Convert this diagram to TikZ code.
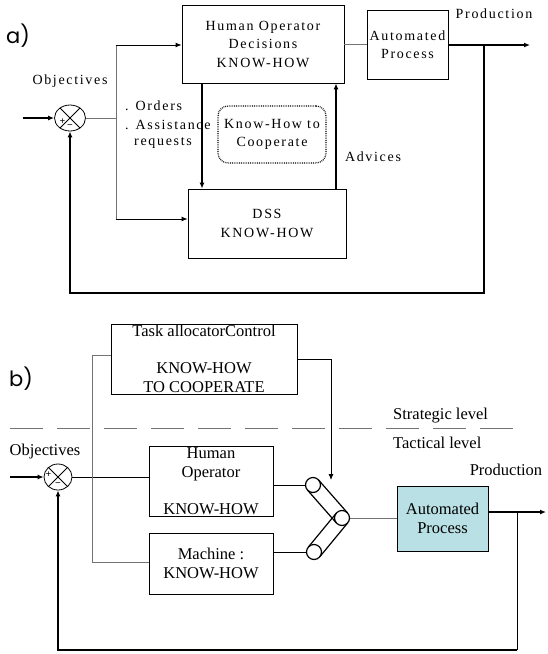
\documentclass[tikz,border=0pt]{standalone}
\usepackage{fontspec}
\setmainfont{Liberation Serif}
\newfontfamily\spacedfont[LetterSpace=12]{Liberation Serif}
\newfontfamily\labelfont{Poppins}
\usetikzlibrary{arrows.meta,calc,shapes.geometric}
\begin{document}
\begin{tikzpicture}[x=1pt,y=-1pt,
  box/.style={draw=black, line width=0.8pt, inner sep=0pt, align=center},
  fa/.style={font=\spacedfont\fontsize{14}{18.5}\selectfont},
  fb/.style={font=\fontsize{16.5}{19}\selectfont},
  gline/.style={draw=black!55, line width=0.9pt},
  thinline/.style={draw=black, line width=0.9pt},
  thickline/.style={draw=black, line width=1.6pt},
  tip/.style={-{Latex[length=6pt,width=5pt]}},
  sumj/.style={draw, ellipse, line width=0.8pt, inner sep=0pt},
  pin/.style={draw, circle, line width=1.2pt, minimum size=15pt, inner sep=0pt},
  lbl/.style={inner sep=0pt},
  tiny/.style={inner sep=0pt, font=\bfseries\fontsize{10}{10}\selectfont}
]
\useasboundingbox (0,0) rectangle (547,654);

% ================= part a =================
\node[lbl, font=\labelfont\fontsize{21}{21}\selectfont] (la) at (18,36) {a)};

\node[box, fa, minimum width=162pt, minimum height=78pt] (hoa) at (263,44) {Human Operator\\Decisions\\KNOW-HOW};
\node[box, fa, minimum width=81pt, minimum height=69pt] (apa) at (407.5,44.5) {Automated\\Process};
\node[box, fa, minimum width=158pt, minimum height=69pt] (dss) at (267,223.5) {DSS\\KNOW-HOW};
\node[box, fa, draw=black, densely dotted, line width=1.2pt, rounded corners=10pt, minimum width=108pt, minimum height=57pt] (kh) at (272,134.5) {Know-How to\\Cooperate};

\node[sumj, minimum width=31pt, minimum height=26pt] (suma) at (70,118) {};
\draw[line width=0.8pt] (suma.45) -- (suma.225) (suma.135) -- (suma.315);
\node[tiny] (pa) at (62.5,122) {+};
\node[tiny] (ma) at (70,127) {−};

\node[lbl, fa] (obja) at (70,81) {Objectives};
\node[lbl, fa, anchor=west] (orda) at (125,106) {. Orders};
\node[lbl, fa, anchor=west] (assa) at (125,125) {. Assistance};
\node[lbl, fa, anchor=west] (reqa) at (134,143) {requests};
\node[lbl, fa] (adva) at (373,157) {Advices};
\node[lbl, fa] (proda) at (494,14) {Production};

\coordinate (ina) at (23,118);
\coordinate (spa) at (116,118);
\coordinate (spt) at (116,45);
\coordinate (spb) at (116,219);
\coordinate (outa) at (530,45);
\coordinate (fba) at (484,45);
\coordinate (bota) at (70,293);
\coordinate (d1) at (202,83);
\coordinate (u1) at (336,189);

\draw[thickline, tip] (ina) -- (suma.west);
\draw[gline] (suma.east) -- (spa);
\draw[gline] (spt) -- (spb);
\draw[thinline, tip] (spt) -- (spt -| hoa.west);
\draw[thinline, tip] (spb) -- (spb -| dss.west);
\draw[gline] (hoa.east |- apa.west) -- (apa.west);
\draw[thickline, tip] (apa.east |- outa) -- (outa);
\draw[thickline, tip] (fba) -- (fba |- bota) -- (bota) -- (suma.south);
\draw[thickline, tip] (d1) -- (d1 |- dss.north);
\draw[thickline, tip] (u1) -- (u1 |- hoa.south);

% ================= part b =================
\node[lbl, font=\labelfont\fontsize{21}{21}\selectfont] (lb) at (21,379) {b)};

\node[box, fb, minimum width=186pt, minimum height=70pt] (ta) at (204,359) {Task allocatorControl\\[18pt]KNOW-HOW\\TO COOPERATE};
\node[box, fb, minimum width=124pt, minimum height=70pt] (hob) at (211,481) {Human\\Operator\\[18pt]KNOW-HOW};
\node[box, fb, minimum width=124pt, minimum height=61pt] (mach) at (211,563.5) {Machine :\\KNOW-HOW};
\node[box, fb, fill={rgb,255:red,185;green,224;blue,228}, minimum width=91pt, minimum height=65pt] (apb) at (442.5,518.5) {Automated\\Process};

\node[sumj, minimum width=28pt, minimum height=26pt] (sumb) at (58,477) {};
\draw[line width=0.8pt] (sumb.45) -- (sumb.225) (sumb.135) -- (sumb.315);
\node[tiny] (pb) at (48.5,475) {+};
\node[tiny] (mb) at (58,485) {−};

\node[lbl, fb] (objb) at (45,452) {Objectives};
\node[lbl, fb] (prodb) at (506,470) {Production};
\node[lbl, fb, anchor=west] (strat) at (393,416) {Strategic level};
\node[lbl, fb, anchor=west] (tact) at (393,443) {Tactical level};

\coordinate (dl1) at (10,428);
\coordinate (dl2) at (524,428);
\draw[gline, dash pattern=on 33pt off 14pt] (dl1) -- (dl2);

% switch
\node[pin] (s1) at (313,485) {};
\node[pin] (s2) at (342,518) {};
\node[pin] (s3) at (314,552) {};
\draw[line width=1.2pt] ($(s1)!7.5pt!90:(s2)$) -- ($(s2)!7.5pt!-90:(s1)$);
\draw[line width=1.2pt] ($(s1)!7.5pt!-90:(s2)$) -- ($(s2)!7.5pt!90:(s1)$);
\draw[line width=1.2pt] ($(s3)!7.5pt!90:(s2)$) -- ($(s2)!7.5pt!-90:(s3)$);
\draw[line width=1.2pt] ($(s3)!7.5pt!-90:(s2)$) -- ($(s2)!7.5pt!90:(s3)$);

\coordinate (inb) at (10,477);
\coordinate (vt) at (92,355);
\coordinate (vb) at (92,562);
\coordinate (tr) at (331,359);
\coordinate (tt) at (331,480);
\coordinate (outb) at (546,512);
\coordinate (fbb) at (517,512);
\coordinate (botb) at (58,650);

\draw[thickline, tip] (inb) -- (sumb.west);
\draw[thinline] (sumb.east) -- (sumb.east -| hob.west);
\draw[gline] (vt -| ta.west) -- (vt) -- (vb) -- (vb -| mach.west);
\draw[thinline, tip] (tr -| ta.east) -- (tr) -- (tt);
\draw[thinline] (s1.west -| hob.east) -- (s1.west);
\draw[thinline] (s3.west -| mach.east) -- (s3.west);
\draw[gline] (s2.east) -- (s2.east -| apb.west);
\draw[thickline, tip] (outb -| apb.east) -- (outb);
\draw[thinline] (fbb) -- (fbb |- botb);
\draw[thickline, tip] (fbb |- botb) -- (botb) -- (sumb.south);
\end{tikzpicture}
\end{document}
